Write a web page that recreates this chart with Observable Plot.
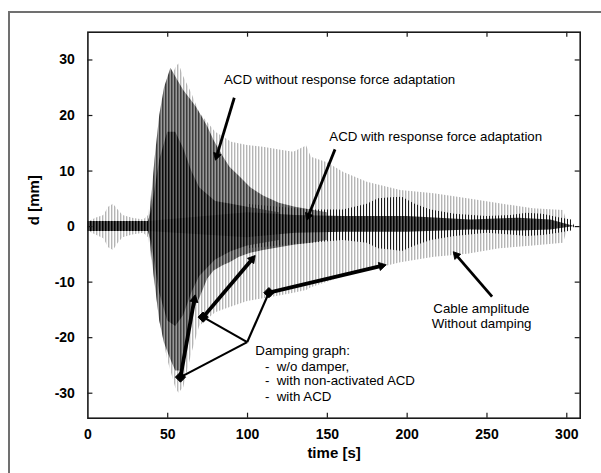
<!DOCTYPE html>
<html><head><meta charset="utf-8">
<script src="https://cdn.jsdelivr.net/npm/d3@7"></script>
<script src="https://cdn.jsdelivr.net/npm/@observablehq/plot@0.6"></script>
<style>
body{margin:0;background:#fff;}
#wrap{position:relative;width:601px;height:473px;overflow:hidden;background:#fff;}
#border{position:absolute;left:8px;top:11px;width:700px;height:700px;border-left:2px solid #707070;border-top:2px solid #707070;}
#chart{position:absolute;left:0;top:0;}
</style></head><body><div id="wrap"><div id="border"></div><div id="chart"></div></div>
<script>
// ---- axes ----
const xDomain = [0, 308.4];
const yDomain = [-34.5, 35];
const xTicks = [0, 50, 100, 150, 200, 250, 300];
const yTicks = [-30, -20, -10, 0, 10, 20, 30];
const xLabel = "time [s]";
const yLabel = "d [mm]";

// ---- envelope of cable without damping (light grey) ----
const lightT  = [0, 5, 10, 13, 16, 19, 22, 28, 35, 38, 40, 45, 50, 55, 57, 60, 65, 70, 80, 90, 100, 110, 120, 129, 137, 140, 150, 160, 175, 196, 217, 238, 258, 279, 298, 301];
const lightHi = [0.8, 1.5, 2, 3.5, 4, 3, 2, 1.5, 1.2, 2, 6, 18, 25, 28.5, 29.3, 27, 24, 20.5, 17, 15.2, 14.6, 14.3, 13.8, 13.4, 14.5, 12.5, 11.5, 9.8, 8, 6.5, 5.9, 5.0, 4.1, 3.2, 2.9, 0];
const lightLo = [-0.8, -1.5, -2.2, -3.8, -4.3, -3, -2, -1.5, -1.2, -2, -6, -17, -24, -29, -30, -29, -23, -18, -15.5, -14.5, -13.5, -13, -12.5, -12, -11.5, -11, -10, -9, -8, -6.5, -5.5, -5, -4, -3.5, -3, 0];

// ---- envelope with non-activated ACD (dark grey) ----
const midT  = [38, 40, 42, 45, 48, 52, 55, 58, 60, 64, 68, 70, 75, 79, 85, 89, 95, 102, 110, 120, 130, 140, 150];
const midHi = [0, 5, 12, 20, 25, 28.5, 27, 25.5, 24.5, 23, 21.5, 20.5, 18, 15.5, 12.5, 10.7, 9, 7, 5.5, 4.2, 3.5, 3, 2.5];
const midLo = [0, -5, -10, -17, -21, -24, -26, -26, -24, -17, -14, -13, -9.5, -8, -7, -6.5, -5.5, -4.8, -4.3, -3.8, -3.3, -3, -2.5];

// ---- dark core of the damped traces during the main oscillation ----
const peakT  = [38, 40, 45, 50, 55, 60, 65, 70, 80, 90, 100, 110, 120];
const peakHi = [1, 3, 12, 17, 17, 14, 10, 7, 4.5, 4, 3.5, 3, 2.5];
const peakLo = [-1, -3, -12, -17, -18, -16, -12, -9, -6, -4.5, -3.5, -3, -2.5];

// ---- ACD with response force adaptation: spikes and residual noise (black) ----
const spikeT  = [100, 120, 140, 160, 175, 182, 190, 197, 205, 215, 230, 250, 265, 275, 285, 295, 303, 305];
const spikeHi = [4, 3.5, 3, 3, 4, 5, 5.2, 5.3, 4, 3, 2.2, 1.8, 2, 2.4, 2.2, 1.6, 1.2, 0];
const spikeLo = [-4, -3.5, -3, -2.5, -3, -4, -4.2, -4.5, -3.5, -2.5, -1.8, -1.2, -1.5, -1.8, -1.6, -1.2, -0.8, 0];
const coreT  = [0, 38, 100, 130, 160, 200, 240, 270, 290, 305];
const coreHi = [0.9, 0.9, 2.5, 2, 1.8, 1.8, 1.2, 1.5, 1.2, 0];
const coreLo = [-0.9, -0.9, -2, -1.2, -1, -1, -0.6, -0.8, -0.6, 0];

// ---- annotations ----
const noteText = ["ACD without response force adaptation", "ACD with response force adaptation", "Damping graph:", "-\u00a0\u00a0w/o damper,", "-\u00a0\u00a0with non-activated ACD", "-\u00a0\u00a0with ACD"];
const noteX = [85.2, 151.2, 104.9, 110.9, 110.9, 110.9];
const noteY = [26.5, 16.2, -22.4, -25.2, -27.8, -30.6];
const cableText = ["Cable amplitude", "Without damping"];
const cableX = [246.5, 246.6];
const cableY = [-14.8, -17.5];

const thinArrowX1 = [91.7, 154.8, 253.2];
const thinArrowY1 = [23.2, 13.9, -12.6];
const thinArrowX2 = [79.2, 136.1, 227.3];
const thinArrowY2 = [11.3, 0.5, -4.0];

const diamondX = [58.0, 72.2, 113.4];
const diamondY = [-27.1, -16.3, -11.9];
const dampTipX = [67.7, 106.6, 189.6];
const dampTipY = [-11.5, -4.6, -6.7];
const junctionX = 99.8;
const junctionY = -20.8;

// ---- layout ----
const W = 601, H = 473, mL = 87.4, mR = 21.3, mT = 31.7, mB = 55.3;
const kx = (W - mL - mR) / (xDomain[1] - xDomain[0]);   // px per second
const ky = (H - mT - mB) / (yDomain[1] - yDomain[0]);   // px per mm
const tickPx = 5;
const tX = tickPx / kx, tY = tickPx / ky;
const inner = xTicks.slice(1);

// ---- build tables ----
const rows = (T, Hh, L) => T.map((t, i) => ({t, hi: Hh[i], lo: L[i]}));
const light = rows(lightT, lightHi, lightLo);
const mid = rows(midT, midHi, midLo);
const peak = rows(peakT, peakHi, peakLo);
const spike = rows(spikeT, spikeHi, spikeLo);
const core = rows(coreT, coreHi, coreLo);
const notes = noteText.map((s, i) => ({s, x: noteX[i], y: noteY[i]}));
const cable = cableText.map((s, i) => ({s, x: cableX[i], y: cableY[i]}));

// arrows: shaft ends in the centroid of a filled triangle head at the tip
function arrows(X1, Y1, X2, Y2, half) {
  return X1.map((x1, i) => {
    const y1 = Y1[i], x2 = X2[i], y2 = Y2[i];
    const dxp = (x2 - x1) * kx, dyp = -(y2 - y1) * ky;
    const len = Math.hypot(dxp, dyp), ux = dxp / len, uy = dyp / len;
    const cx = x2 - 2 * half * ux / kx, cy = y2 + 2 * half * uy / ky;
    const rot = Math.atan2(ux, -uy) * 180 / Math.PI;
    const r = Math.sqrt(3 * Math.sqrt(3) * half * half / Math.PI);
    return {x1, y1, cx, cy, rot, r};
  });
}
const thin = arrows(thinArrowX1, thinArrowY1, thinArrowX2, thinArrowY2, 4.2);
const damp = arrows(diamondX, diamondY, dampTipX, dampTipY, 4.6);
const links = diamondX.map((d, i) => ({x1: junctionX, y1: junctionY, x2: d, y2: diamondY[i]}));

const font = "'Liberation Sans', Arial, Helvetica, sans-serif";

const svg = Plot.plot({
  width: W, height: H,
  marginLeft: mL, marginRight: mR, marginTop: mT, marginBottom: mB,
  style: {fontFamily: font, background: "transparent", color: "#000"},
  x: {domain: xDomain},
  y: {domain: yDomain},
  marks: [
    Plot.areaY(light, {x: "t", y1: "lo", y2: "hi", fill: "url(#pl)", curve: "linear"}),
    Plot.areaY(mid, {x: "t", y1: "lo", y2: "hi", fill: "url(#pm)", curve: "linear"}),
    Plot.areaY(peak, {x: "t", y1: "lo", y2: "hi", fill: "url(#pk)", curve: "linear"}),
    Plot.areaY(spike, {x: "t", y1: "lo", y2: "hi", fill: "url(#ps)", curve: "linear"}),
    Plot.areaY(core, {x: "t", y1: "lo", y2: "hi", fill: "url(#pc)", curve: "linear"}),
    Plot.frame({stroke: "#1a1a1a", strokeWidth: 1.6}),
    Plot.ruleX(inner, {x: d => d, y1: yDomain[0], y2: yDomain[0] + tY, stroke: "#1a1a1a", strokeWidth: 1.2}),
    Plot.ruleX(inner, {x: d => d, y1: yDomain[1], y2: yDomain[1] - tY, stroke: "#1a1a1a", strokeWidth: 1.2}),
    Plot.ruleY(yTicks, {y: d => d, x1: xDomain[0], x2: xDomain[0] + tX, stroke: "#1a1a1a", strokeWidth: 1.2}),
    Plot.ruleY(yTicks, {y: d => d, x1: xDomain[1], x2: xDomain[1] - tX, stroke: "#1a1a1a", strokeWidth: 1.2}),
    Plot.axisX(xTicks, {anchor: "bottom", tickSize: 0, tickPadding: 11, fontSize: 14, fontWeight: "bold", label: null, tickFormat: d => String(d)}),
    Plot.axisY(yTicks, {anchor: "left", tickSize: 0, tickPadding: 13, fontSize: 14, fontWeight: "bold", label: null, tickFormat: d => String(d)}),
    Plot.text([xLabel], {frameAnchor: "bottom", dy: 40, fontSize: 15, fontWeight: "bold", fill: "#000"}),
    Plot.text([yLabel], {frameAnchor: "left", dx: -53.4, rotate: -90, fontSize: 15, fontWeight: "bold", fill: "#000"}),
    Plot.text(notes, {x: "x", y: "y", text: "s", textAnchor: "start", fontSize: 13.3, fill: "#000"}),
    Plot.text(cable, {x: "x", y: "y", text: "s", textAnchor: "middle", fontSize: 13.3, fill: "#000"}),
    Plot.link(thin, {x1: "x1", y1: "y1", x2: "cx", y2: "cy", stroke: "#000", strokeWidth: 2.8}),
    Plot.dot(thin, {x: "cx", y: "cy", symbol: "triangle", r: "r", rotate: "rot", fill: "#000", stroke: "#000", strokeWidth: 0.8}),
    Plot.link(links, {x1: "x1", y1: "y1", x2: "x2", y2: "y2", stroke: "#000", strokeWidth: 2.2}),
    Plot.link(damp, {x1: "x1", y1: "y1", x2: "cx", y2: "cy", stroke: "#000", strokeWidth: 3.8}),
    Plot.dot(damp, {x: "cx", y: "cy", symbol: "triangle", r: "r", rotate: "rot", fill: "#000", stroke: "#000", strokeWidth: 0.8}),
    Plot.dot(damp, {x: "x1", y: "y1", symbol: "diamond2", r: 4.6, fill: "#000", stroke: "#000", strokeWidth: 1})
  ]
});

// vertical-line hatching patterns that imitate the dense oscillation traces
const defs = d3.select(svg).insert("defs", ":first-child");
function hatch(id, bg, line, w) {
  const p = defs.append("pattern").attr("id", id).attr("patternUnits", "userSpaceOnUse")
    .attr("width", 3).attr("height", 10);
  if (bg) p.append("rect").attr("width", 3).attr("height", 10).attr("fill", bg);
  p.append("rect").attr("width", w).attr("height", 10).attr("fill", line);
}
hatch("pl", null, "#b5b5b5", 1.4);
hatch("pm", "#9a9a9a", "#3c3c3c", 1.5);
hatch("pk", "#6a6a6a", "#0a0a0a", 1.5);
hatch("ps", null, "#1a1a1a", 1);
hatch("pc", "#5a5a5a", "#000000", 1.5);

document.getElementById("chart").appendChild(svg);
</script></body></html>
